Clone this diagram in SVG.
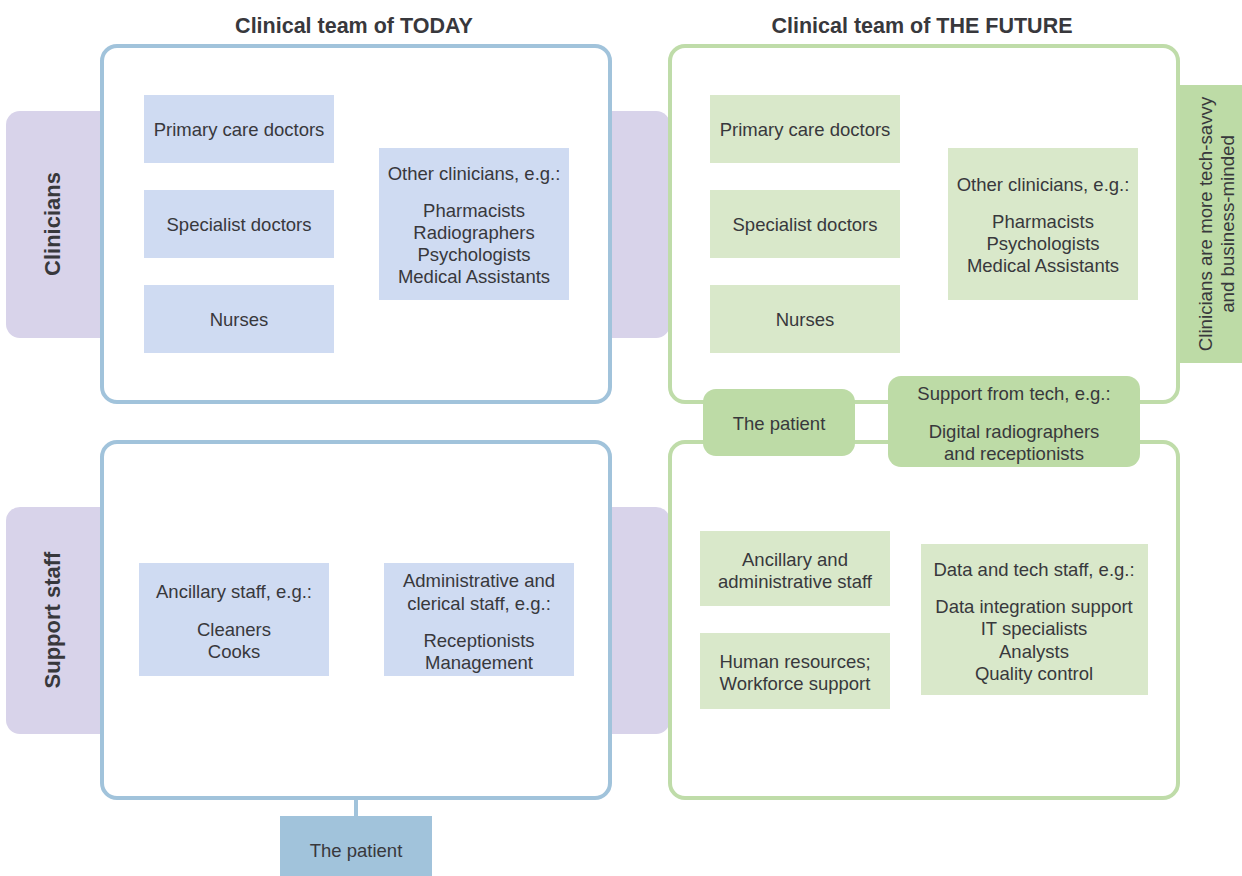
<svg xmlns="http://www.w3.org/2000/svg" width="1242" height="876" viewBox="0 0 1242 876">
<style>
text{font-family:"Liberation Sans",Arial,sans-serif;fill:#38383c;font-size:18.5px;text-anchor:middle}
.title{font-weight:bold;font-size:21.5px}
.band{font-weight:bold;font-size:22px}
.side{font-size:18.7px}
.purple{fill:#d8d3ea}
.frameB{fill:#fff;stroke:#a1c3db;stroke-width:4}
.frameG{fill:#fff;stroke:#bfdca9;stroke-width:4}
.blue{fill:#cfdbf2}
.lgreen{fill:#d9e8ca}
.green{fill:#bddba6}
</style>
<rect width="1242" height="876" fill="#fff"/>
<g id="titles">
<text class="title" x="354" y="33">Clinical team of TODAY</text>
<text class="title" x="922" y="33">Clinical team of THE FUTURE</text>
</g>
<g id="band-clinicians">
<rect class="purple" x="6" y="111" width="664" height="227" rx="14"/>
<text class="band" transform="translate(60,224) rotate(-90)">Clinicians</text>
</g>
<g id="band-support">
<rect class="purple" x="6" y="507" width="664" height="227" rx="14"/>
<text class="band" transform="translate(60,620) rotate(-90)">Support staff</text>
</g>
<g id="side-note">
<rect class="green" x="1178" y="85" width="64" height="278"/>
<text class="side" transform="translate(1212,224) rotate(-90)">Clinicians are more tech-savvy</text>
<text class="side" transform="translate(1234,224) rotate(-90)">and business-minded</text>
</g>
<g id="connectors">
<line x1="356" y1="798" x2="356" y2="818" stroke="#a1c3db" stroke-width="4"/>
</g>
<g id="today-clinicians">
<rect class="frameB" x="102" y="46" width="508" height="356" rx="15"/>
<rect class="blue" x="144" y="95" width="190" height="68"/>
<text x="239" y="136">Primary care doctors</text>
<rect class="blue" x="144" y="190" width="190" height="68"/>
<text x="239" y="231">Specialist doctors</text>
<rect class="blue" x="144" y="285" width="190" height="68"/>
<text x="239" y="326">Nurses</text>
<rect class="blue" x="379" y="148" width="190" height="152"/>
<text x="474" y="180">Other clinicians, e.g.:</text>
<text x="474" y="217">Pharmacists</text>
<text x="474" y="239">Radiographers</text>
<text x="474" y="261">Psychologists</text>
<text x="474" y="283">Medical Assistants</text>
</g>
<g id="today-support">
<rect class="frameB" x="102" y="442" width="508" height="356" rx="15"/>
<rect class="blue" x="139" y="563" width="190" height="113"/>
<text x="234" y="598">Ancillary staff, e.g.:</text>
<text x="234" y="636">Cleaners</text>
<text x="234" y="658">Cooks</text>
<rect class="blue" x="384" y="563" width="190" height="113"/>
<text x="479" y="587">Administrative and</text>
<text x="479" y="610">clerical staff, e.g.:</text>
<text x="479" y="647">Receptionists</text>
<text x="479" y="669">Management</text>
</g>
<g id="today-patient">
<rect x="280" y="816" width="152" height="60" fill="#a1c3db"/>
<text x="356" y="857">The patient</text>
</g>
<g id="future-clinicians">
<rect class="frameG" x="670" y="46" width="508" height="356" rx="15"/>
<rect class="lgreen" x="710" y="95" width="190" height="68"/>
<text x="805" y="136">Primary care doctors</text>
<rect class="lgreen" x="710" y="190" width="190" height="68"/>
<text x="805" y="231">Specialist doctors</text>
<rect class="lgreen" x="710" y="285" width="190" height="68"/>
<text x="805" y="326">Nurses</text>
<rect class="lgreen" x="948" y="148" width="190" height="152"/>
<text x="1043" y="191">Other clinicians, e.g.:</text>
<text x="1043" y="228">Pharmacists</text>
<text x="1043" y="250">Psychologists</text>
<text x="1043" y="272">Medical Assistants</text>
</g>
<g id="future-support">
<rect class="frameG" x="670" y="442" width="508" height="356" rx="15"/>
<rect class="lgreen" x="700" y="531" width="190" height="75"/>
<text x="795" y="566">Ancillary and</text>
<text x="795" y="588">administrative staff</text>
<rect class="lgreen" x="700" y="633" width="190" height="76"/>
<text x="795" y="668">Human resources;</text>
<text x="795" y="690">Workforce support</text>
<rect class="lgreen" x="921" y="544" width="227" height="151"/>
<text x="1034" y="576">Data and tech staff, e.g.:</text>
<text x="1034" y="613">Data integration support</text>
<text x="1034" y="635">IT specialists</text>
<text x="1034" y="658">Analysts</text>
<text x="1034" y="680">Quality control</text>
</g>
<g id="future-patient">
<rect class="green" x="703" y="389" width="152" height="67" rx="13"/>
<text x="779" y="430">The patient</text>
</g>
<g id="future-tech">
<rect class="green" x="888" y="376" width="252" height="91" rx="13"/>
<text x="1014" y="400">Support from tech, e.g.:</text>
<text x="1014" y="438">Digital radiographers</text>
<text x="1014" y="460">and receptionists</text>
</g>
</svg>
